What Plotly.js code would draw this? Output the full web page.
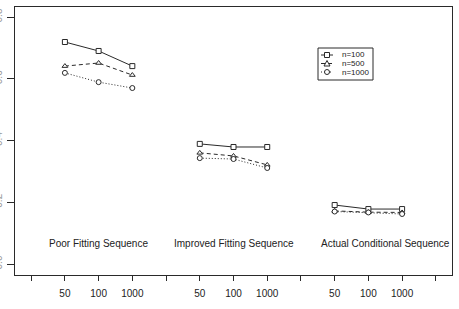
<!DOCTYPE html>
<html>
<head>
<meta charset="utf-8">
<script src="https://cdn.plot.ly/plotly-3.0.1.min.js"></script>
<style>
  html, body { margin: 0; padding: 0; background: #fff; }
  #chart { width: 459px; height: 309px; }
</style>
</head>
<body>
<div id="chart"></div>
<script>
// Fitting sequences compared along the x axis, three sample sizes each
const groups = ['Poor Fitting Sequence', 'Improved Fitting Sequence', 'Actual Conditional Sequence'];
const sampleSizes = ['50', '100', '1000'];
const seriesNames = ['n=100', 'n=500', 'n=1000'];

// one row per sequence, one value per sample size
const n100 = [[0.719, 0.690, 0.641], [0.389, 0.379, 0.379], [0.191, 0.178, 0.178]];
const n500 = [[0.641, 0.651, 0.612], [0.360, 0.350, 0.321], [0.172, 0.168, 0.167]];
const n1000 = [[0.619, 0.589, 0.570], [0.343, 0.340, 0.311], [0.170, 0.167, 0.162]];

const yTicks = [0.0, 0.2, 0.4, 0.6, 0.8];

// each sequence takes four slots on the x axis: a spacer plus three sample sizes
const slot = (g, i) => 4 * g + 2 + i;

function buildXY(rows) {
  const x = [], y = [];
  rows.forEach((vals, g) => {
    vals.forEach((v, i) => { x.push(slot(g, i)); y.push(v); });
    if (g < rows.length - 1) { x.push(null); y.push(null); }
  });
  return { x, y };
}

const ink = '#2a2a2a';
const styles = [
  { symbol: 'square', dash: 'solid' },
  { symbol: 'triangle-up', dash: '4px,3px' },
  { symbol: 'circle', dash: '1px,2px' }
];

const traces = [n100, n500, n1000].map((rows, k) => {
  const xy = buildXY(rows);
  return {
    type: 'scatter',
    mode: 'lines+markers',
    name: seriesNames[k],
    x: xy.x,
    y: xy.y,
    connectgaps: false,
    showlegend: false,
    line: { color: ink, width: 1, dash: styles[k].dash },
    marker: { symbol: styles[k].symbol, size: 5, color: '#fff', line: { color: ink, width: 1 } },
    cliponaxis: false
  };
});

// tick at every slot, labelled only where a sample size sits
const tickVals = [], tickText = [];
for (let s = 1; s <= 4 * groups.length + 1; s++) {
  tickVals.push(s);
  const pos = (s - 1) % 4;
  tickText.push(pos === 0 ? '' : sampleSizes[pos - 1]);
}

const labelY = 0.065;
const labelX = [3, 7, 11.5];
const annotations = groups.map((g, i) => ({
  x: labelX[i], y: labelY, xref: 'x', yref: 'y',
  text: g, showarrow: false,
  font: { size: 10, color: '#222' }
}));

// compact key box in the upper right of the plot area
const W = 459, H = 309;
const M = { l: 15, r: 7, t: 7, b: 34 };
const plotW = W - M.l - M.r, plotH = H - M.t - M.b;
const px = v => (v - M.l) / plotW;          // pixel column -> paper x
const py = v => (H - M.b - v) / plotH;      // pixel row -> paper y

const key = { left: 318, top: 48, right: 373, bottom: 80, row0: 55, rowGap: 8.5, lineL: 321, lineR: 333, textX: 340 };
const shapes = [{
  type: 'rect', xref: 'paper', yref: 'paper',
  x0: px(key.left), x1: px(key.right), y0: py(key.bottom), y1: py(key.top),
  line: { color: ink, width: 1 }, fillcolor: '#fff', layer: 'above'
}];
const mk = 2.5;
seriesNames.forEach((name, k) => {
  const yr = key.row0 + k * key.rowGap;
  const cx = (key.lineL + key.lineR) / 2;
  shapes.push({
    type: 'line', xref: 'paper', yref: 'paper', layer: 'above',
    x0: px(key.lineL), x1: px(key.lineR), y0: py(yr), y1: py(yr),
    line: { color: ink, width: 1, dash: styles[k].dash }
  });
  const glyph = { xref: 'paper', yref: 'paper', layer: 'above', fillcolor: '#fff', line: { color: ink, width: 1 } };
  if (k === 0) {
    shapes.push(Object.assign({ type: 'rect', x0: px(cx - mk), x1: px(cx + mk), y0: py(yr + mk), y1: py(yr - mk) }, glyph));
  } else if (k === 1) {
    shapes.push(Object.assign({ type: 'path',
      path: `M ${px(cx - mk - 0.5)} ${py(yr + mk)} L ${px(cx + mk + 0.5)} ${py(yr + mk)} L ${px(cx)} ${py(yr - mk - 0.5)} Z` }, glyph));
  } else {
    shapes.push(Object.assign({ type: 'circle', x0: px(cx - mk), x1: px(cx + mk), y0: py(yr + mk), y1: py(yr - mk) }, glyph));
  }
  annotations.push({
    xref: 'paper', yref: 'paper', x: px(key.textX), y: py(yr),
    xanchor: 'left', yanchor: 'middle', showarrow: false,
    text: name, font: { size: 8, color: '#222' }
  });
});

const layout = {
  width: W, height: H,
  margin: M,
  paper_bgcolor: '#fff', plot_bgcolor: '#fff',
  font: { family: 'Liberation Sans, Arial, sans-serif', size: 10, color: '#222' },
  showlegend: false,
  xaxis: {
    range: [0.52, 13.48],
    tickmode: 'array', tickvals: tickVals, ticktext: tickText,
    ticks: 'outside', ticklen: 5, tickcolor: ink, tickwidth: 1,
    showline: true, linecolor: ink, linewidth: 1, mirror: true,
    showgrid: false, zeroline: false,
    ticklabelstandoff: 4,
    tickfont: { size: 10, color: '#222' }
  },
  yaxis: {
    range: [-0.0356, 0.8324],
    tickmode: 'array', tickvals: yTicks,
    ticktext: yTicks.map(v => v.toFixed(1)),
    ticks: 'outside', ticklen: 7, tickcolor: ink, tickwidth: 1,
    tickangle: -90,
    ticklabelstandoff: 1,
    showline: true, linecolor: ink, linewidth: 1, mirror: true,
    showgrid: false, zeroline: false,
    tickfont: { size: 10, color: '#999' }
  },
  annotations: annotations,
  shapes: shapes
};

Plotly.newPlot('chart', traces, layout, { staticPlot: true, displayModeBar: false });
</script>
</body>
</html>
